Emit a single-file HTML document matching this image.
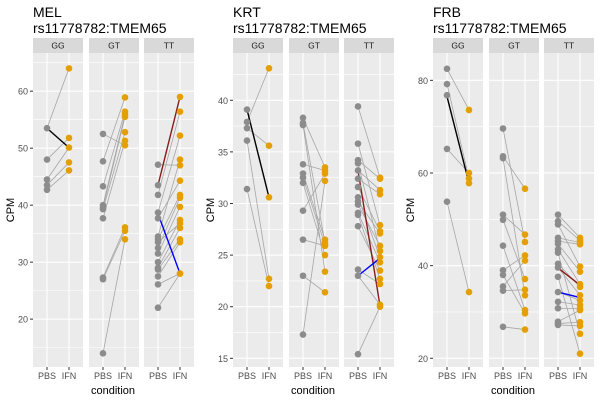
<!DOCTYPE html>
<html><head><meta charset="utf-8"><style>
body{margin:0;background:#fff;font-family:"Liberation Sans",sans-serif}
svg text{font-family:"Liberation Sans",sans-serif}
</style></head><body>
<svg id="chart" width="600" height="400" xmlns="http://www.w3.org/2000/svg"></svg>
<script>
const panelTitles=["MEL","KRT","FRB"];
const genotypes=["GG","GT","TT"];
const conditions=["PBS","IFN"];
const melTicks=[20,30,40,50,60];
const krtTicks=[15,20,25,30,35,40];
const frbTicks=[20,40,60,80];
// MEL
const melGGpbs=[53.5,48,44.5,43.5,42.7];
const melGGifn=[64,51.8,50.1,47.5,46.1];
const melGTpbs=[52.5,47.7,43.3,40,39.6,39.3,37.7,27.3,27,14];
const melGTifn=[50.5,58.9,56.4,55.9,55.5,52.8,51.3,36.1,35.5,34];
const melTTpbs=[47.1,43.5,41.8,38.7,37.7,34.5,34,33.5,32.5,31.5,30,29,28.7,27.5,26.1,22];
const melTTifn=[47,59,56.4,52.2,44.3,48,41.8,36.8,41.3,39.7,37.4,36,34,33.5,28,28];
// KRT
const krtGGpbs=[37.9,37.3,39.1,36.1,31.4];
const krtGGifn=[43.1,35.6,30.6,22.7,22.0];
const krtGTpbs=[38.3,37.8,37.6,33.8,32.9,32.5,32,29.3,26.5,23,17.3];
const krtGTifn=[33.5,26.2,23.4,33.2,26.5,26,25,32.9,25.9,21.4,32.2];
const krtTTpbs=[39.4,35.8,34.2,33.9,33.2,32.4,31.6,30.6,30.2,29.9,29.1,28.9,27.8,23.6,23,15.4];
const krtTTifn=[32.5,27.9,32.4,25.4,31.3,30.9,27.3,24.8,27.1,25.9,24.3,22.7,23.5,22.2,20.2,20];
// FRB
const frbGGpbs=[82.5,79.2,76.8,65.2,53.8];
const frbGGifn=[73.6,58.8,57.8,60,34.3];
const frbGTpbs=[69.6,63.6,63.2,51,49.9,44.3,39,38,35.5,34.6,26.8];
const frbGTifn=[45.1,56.6,33.6,46.7,37.1,30.4,42.2,29.7,41.1,34.8,26.2];
const frbTTpbs=[51,49.6,48.9,46,45.3,44.7,43.5,42.8,40.4,39.6,37.6,34.3,32.2,30.8,27.9,27.5,27.2];
const frbTTifn=[46,45.4,39.8,45,44.6,38.7,36,25.3,35.4,33.6,21,32.5,31.5,30.7,30.4,27.8,27];
// highlight lines [pbs, ifn]
const melHi=[[53.5,50.1,"#000"],null,[43.5,59,"#8b1a1a"],[38.5,28,"#0000ff"]];
const melHighlights=[[[53.5,50.1]],[],[[43.5,59],[38.5,28]]];
const krtHighlights=[[[39.1,30.6]],[],[[33.2,20.1],[23,24.7]]];
const frbHighlights=[[[76.5,57.8]],[],[[39.5,35.8],[34.3,33.1]]];
const hiColors=[["#000000"],[],["#8b1a1a","#0000ff"]];

const panels=[
 {title:"MEL",ox:0,ticks:melTicks,ymin:11.6,ymax:66.7,data:[[melGGpbs,melGGifn],[melGTpbs,melGTifn],[melTTpbs,melTTifn]],hi:melHighlights},
 {title:"KRT",ox:200,ticks:krtTicks,ymin:14.16,ymax:44.58,data:[[krtGGpbs,krtGGifn],[krtGTpbs,krtGTifn],[krtTTpbs,krtTTifn]],hi:krtHighlights},
 {title:"FRB",ox:400,ticks:frbTicks,ymin:18.12,ymax:85.9,data:[[frbGGpbs,frbGGifn],[frbGTpbs,frbGTifn],[frbTTpbs,frbTTifn]],hi:frbHighlights}
];
const NS="http://www.w3.org/2000/svg";
const svg=document.getElementById("chart");
function mk(tag,attrs,parent,text){const e=document.createElementNS(NS,tag);for(const k in attrs)e.setAttribute(k,attrs[k]);if(text!==undefined)e.textContent=text;(parent||svg).appendChild(e);return e;}
const TOP=53,BOT=367;
const facetX=[33,89,144],FW=50;
panels.forEach((p,pi)=>{
  const g=mk("g",{});
  
  
  const y=v=>BOT-(v-p.ymin)/(p.ymax-p.ymin)*(BOT-TOP);
  const t1=mk("text",{x:p.ox+33,y:17,"font-size":14,fill:"#000"},g,p.title);
  
  
  const t2=mk("text",{x:p.ox+33,y:33,"font-size":14,fill:"#000"},g,"rs11778782:TMEM65");
  
  
  const yl=mk("text",{x:0,y:0,"font-size":11,fill:"#000","text-anchor":"middle",transform:`translate(${p.ox+14},${(TOP+BOT)/2}) rotate(-90)`},g,"CPM");
  
  
  const xl=mk("text",{x:p.ox+113,y:394,"font-size":11,fill:"#000","text-anchor":"middle"},g,"condition");
  
  
  p.ticks.forEach(t=>{
    const tl=mk("text",{x:p.ox+28,y:y(t)+3.5,"font-size":9,fill:"#4d4d4d","text-anchor":"end"},g,String(t));
    
    
    mk("line",{x1:p.ox+30,x2:p.ox+33,y1:y(t),y2:y(t),stroke:"#333","stroke-width":1},g);
  });
  const step=p.ticks[1]-p.ticks[0];
  genotypes.forEach((gt,fi)=>{
    const fx=p.ox+facetX[fi];
    const f=mk("g",{},g);
    
    
    mk("rect",{x:fx,y:TOP,width:FW,height:BOT-TOP,fill:"#ebebeb"},f);
    const s=mk("rect",{x:fx,y:38,width:FW,height:15,fill:"#d9d9d9"},f);
    
    
    const st=mk("text",{x:fx+FW/2,y:48.5,"font-size":8.5,fill:"#1a1a1a","text-anchor":"middle"},f,gt);
    
    
    for(let v=p.ticks[0]-step*1.5;v<=p.ymax;v+=step){if(v>=p.ymin&&v<=p.ymax)mk("line",{x1:fx,x2:fx+FW,y1:y(v),y2:y(v),stroke:"#fff","stroke-width":0.6},f);}
    p.ticks.forEach(t=>mk("line",{x1:fx,x2:fx+FW,y1:y(t),y2:y(t),stroke:"#fff","stroke-width":1.1},f));
    const xp=fx+14,xi=fx+36;
    [xp,xi].forEach((xx,ci)=>{
      mk("line",{x1:xx,x2:xx,y1:TOP,y2:BOT,stroke:"#fff","stroke-width":1.1},f);
      mk("line",{x1:xx,x2:xx,y1:BOT,y2:BOT+3,stroke:"#333","stroke-width":1},f);
      const xt=mk("text",{x:xx,y:BOT+12,"font-size":9,fill:"#4d4d4d","text-anchor":"middle"},f,conditions[ci]);
      
      
    });
    const [pb,ifn]=p.data[fi];
    pb.forEach((v,i)=>{
      const l=mk("line",{x1:xp,y1:y(v),x2:xi,y2:y(ifn[i]),stroke:"#a6a6a6","stroke-width":0.8},f);
      
      
    });
    p.hi[fi].forEach((h,hi)=>{
      const l=mk("line",{x1:xp,y1:y(h[0]),x2:xi,y2:y(h[1]),stroke:hiColors[fi][hi],"stroke-width":1.4},f);
      
      
    });
    pb.forEach(v=>{
      const c=mk("circle",{cx:xp,cy:y(v),r:3.3,fill:"#8c8c8c"},f);
      
      
    });
    ifn.forEach(v=>{
      const c=mk("circle",{cx:xi,cy:y(v),r:3.3,fill:"#e69f00"},f);
      
      
    });
  });
});
</script>
</body></html>
